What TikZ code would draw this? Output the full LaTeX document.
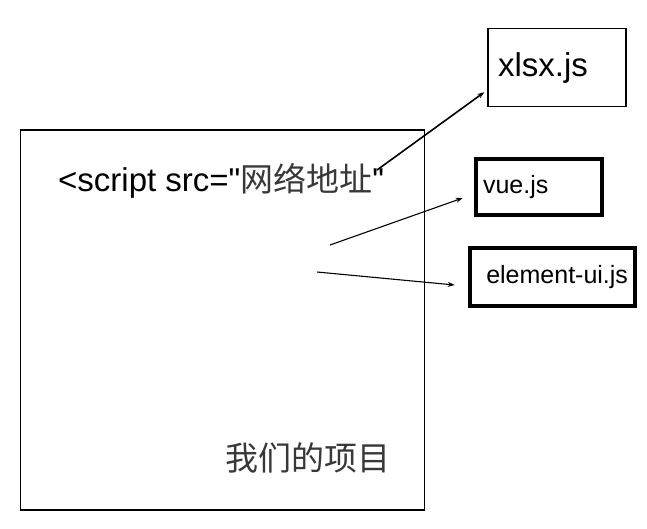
\documentclass[tikz,border=0pt]{standalone}
\usepackage{fontspec}
\setmainfont{Liberation Sans}
\newfontfamily\cjk{Noto Sans CJK SC}
\usetikzlibrary{arrows.meta}
\tikzset{
  thinbox/.style={draw, line width=1.3pt},
  thickbox/.style={draw, line width=4.5pt},
  big/.style={font=\fontsize{33}{39}\selectfont},
  mid/.style={font=\fontsize{25}{30}\selectfont},
}
\newcommand{\zh}[1]{{\cjk\color{black!78}#1}}
\begin{document}
\begin{tikzpicture}[x=1pt,y=-1pt,>={Stealth[length=7pt,width=5pt]}]
    \useasboundingbox (0,0) rectangle (647,528);
    \node [thinbox, minimum width=404pt, minimum height=380pt, inner sep=0pt] (project) at (222.5,320) {};
    \node [big, anchor=west, inner sep=0pt] (src) at (58,181) {<script src=\textquotedbl\zh{网络地址}\textquotedbl};
    \node [big, anchor=west, inner sep=0pt] (name) at (225,458) {\zh{我们的项目}};
    \node [thinbox, big, minimum width=137pt, minimum height=78pt, text width=118pt, inner xsep=10pt, align=left] (xlsx) at (557,67.5) {xlsx.js};
    \node [thickbox, mid, minimum width=126pt, minimum height=56pt, text width=112pt, inner xsep=7pt, align=left] (vue) at (539,187) {vue.js};
    \node [thickbox, mid, minimum width=165pt, minimum height=58pt, text width=151pt, inner xsep=7pt, align=right] (element) at (552.5,277) {element-ui.js};
    \coordinate (srcend) at (377,170);
    \coordinate (fromvue) at (330,245);
    \coordinate (fromelement) at (317,272);
    \draw [->, line width=1.6pt] (srcend) -- ([shift={(-3,-15)}]xlsx.south west);
    \draw [->, line width=1.1pt] (fromvue) -- ([shift={(-11,11)}]vue.west);
    \draw [->, line width=1.1pt] (fromelement) -- ([shift={(-13,8)}]element.west);
\end{tikzpicture}
\end{document}
